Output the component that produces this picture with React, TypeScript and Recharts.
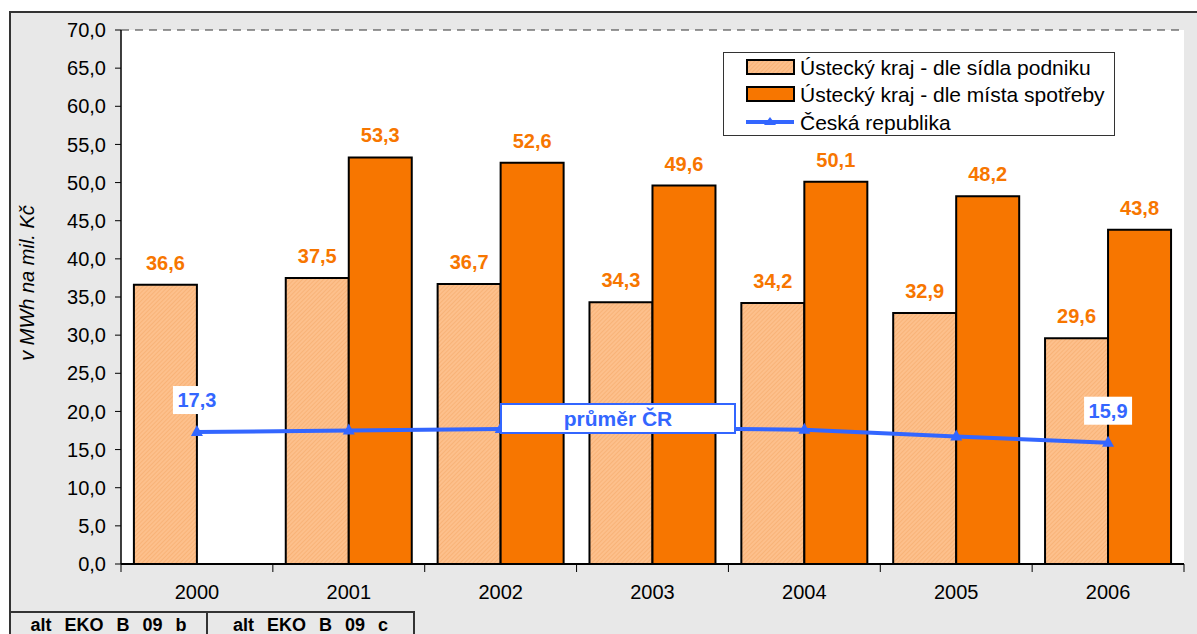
import React from 'react';
import {
  ComposedChart, Bar, Line, XAxis, YAxis, CartesianGrid, LabelList,
} from 'recharts';

const years = ['2000', '2001', '2002', '2003', '2004', '2005', '2006'];
const sidlaPodniku = [36.6, 37.5, 36.7, 34.3, 34.2, 32.9, 29.6];
const mistaSpotreby = [null, 53.3, 52.6, 49.6, 50.1, 48.2, 43.8];
const ceskaRepublika = [17.3, 17.5, 17.7, 17.8, 17.6, 16.7, 15.9];
const yTicks = [0, 5, 10, 15, 20, 25, 30, 35, 40, 45, 50, 55, 60, 65, 70];

const SERIES_NAMES = [
  'Ústecký kraj - dle sídla podniku',
  'Ústecký kraj - dle místa spotřeby',
  'Česká republika',
];

const data = years.map((y, i) => ({
  year: y,
  sidla: sidlaPodniku[i],
  spotreba: mistaSpotreby[i],
  cr: ceskaRepublika[i],
}));

const W = 1197;
const H = 634;
const M = { top: 30, right: 13, bottom: 40, left: 21 };
const Y_W = 100;
const X_H = 30;
const PLOT_LEFT = M.left + Y_W;
const PLOT_W = W - PLOT_LEFT - M.right;
const BAND = PLOT_W / years.length;

const fmt = (v: any) => (v == null ? '' : Number(v).toFixed(1).replace('.', ','));
const FONT = '"Liberation Sans", Arial, sans-serif';
const LIGHT = 'url(#hatch)';
const DARK = '#F77600';
const BLUE = '#3366FF';

const XTick = (props: any) => {
  const { x, y, payload, index } = props;
  const axisY = y - 8;
  return (
    <g>
      <line x1={x - BAND / 2} x2={x - BAND / 2} y1={axisY} y2={axisY + 8} stroke="#000" strokeWidth={1} />
      {index === years.length - 1 && (
        <line x1={x + BAND / 2} x2={x + BAND / 2} y1={axisY} y2={axisY + 8} stroke="#000" strokeWidth={1} />
      )}
      <text x={x} y={axisY + 35} textAnchor="middle" fontSize={20} fill="#000" fontFamily={FONT}>
        {payload.value}
      </text>
    </g>
  );
};

const Tri = (props: any) => {
  const { cx, cy } = props;
  if (cx == null || cy == null) return null;
  return <polygon points={`${cx - 6},${cy + 4} ${cx + 6},${cy + 4} ${cx},${cy - 7}`} fill={BLUE} />;
};

const LineLabel = (props: any) => {
  const { x, y, value, index } = props;
  if (index !== 0 && index !== years.length - 1) return null;
  const t = fmt(value);
  const cy = y - 32;
  return (
    <g>
      <rect x={x - 24} y={cy - 14} width={48} height={28} fill="#fff" />
      <text x={x} y={cy + 7} textAnchor="middle" fontSize={20} fontWeight="bold" fill={BLUE} fontFamily={FONT}>
        {t}
      </text>
    </g>
  );
};

const YLabel = (props: any) => {
  const { viewBox } = props;
  const cx = 27;
  const cy = viewBox.y + viewBox.height / 2 - 14;
  return (
    <text
      x={cx}
      y={cy}
      transform={`rotate(-90 ${cx} ${cy})`}
      textAnchor="middle"
      dominantBaseline="central"
      fontSize={20}
      fontStyle="italic"
      fill="#000"
      fontFamily={FONT}
    >
      v MWh na mil. Kč
    </text>
  );
};

const LegendBox = () => (
  <div
    style={{
      position: 'absolute', left: 723, top: 52, width: 392, height: 84, background: '#fff',
      border: '1px solid #333', boxSizing: 'border-box',
    }}
  >
    <svg width={390} height={82} style={{ display: 'block' }}>
      <defs>
        <pattern id="hatchL" width="3" height="3" patternUnits="userSpaceOnUse" patternTransform="rotate(45)">
          <rect width="3" height="3" fill="#FDC08C" />
          <line x1="0" y1="0" x2="0" y2="3" stroke="#F3A765" strokeWidth="1" />
        </pattern>
      </defs>
      <rect x={23} y={7} width={47} height={14} fill="url(#hatchL)" stroke="#000" strokeWidth={2} />
      <text x={76} y={22} fontSize={21} fontFamily={FONT}>{SERIES_NAMES[0]}</text>
      <rect x={23} y={34} width={47} height={14} fill={DARK} stroke="#000" strokeWidth={2} />
      <text x={76} y={49} fontSize={21} fontFamily={FONT}>{SERIES_NAMES[1]}</text>
      <line x1={22} x2={70} y1={69} y2={69} stroke={BLUE} strokeWidth={4} />
      <polygon points="40,72 52,72 46,64" fill={BLUE} />
      <text x={76} y={77} fontSize={21} fontFamily={FONT}>{SERIES_NAMES[2]}</text>
    </svg>
  </div>
);

const tagStyle: React.CSSProperties = {
  position: 'absolute', top: 611, height: 30, boxSizing: 'border-box',
  border: '2px solid #333', fontWeight: 'bold', fontSize: 18, wordSpacing: 8,
  display: 'flex', justifyContent: 'center', paddingTop: 2, fontFamily: FONT,
};

export default function App() {
  return (
    <div style={{ position: 'absolute', left: 0, top: 0, width: W, height: H, overflow: 'hidden', background: '#fff', fontFamily: FONT }}>
      <div
        style={{
          position: 'absolute', left: 9, top: 11, width: W, height: H,
          background: '#E8E8E8', borderLeft: '2px solid #333', borderTop: '2px solid #333',
        }}
      />
      <div style={{ position: 'absolute', left: 0, top: 0 }}>
        <ComposedChart
          width={W}
          height={H}
          data={data}
          margin={M}
          barCategoryGap="8.5%"
          barGap={0}
        >
          <defs>
            <pattern id="hatch" width="3" height="3" patternUnits="userSpaceOnUse" patternTransform="rotate(45)">
              <rect width="3" height="3" fill="#FDC08C" />
              <line x1="0" y1="0" x2="0" y2="3" stroke="#F3A765" strokeWidth="1" />
            </pattern>
          </defs>
          <CartesianGrid
            vertical={false}
            horizontal
            fill="#fff"
            stroke="#333"
            strokeDasharray="8 6"
            strokeWidth={1}
          />
          <XAxis
            dataKey="year"
            height={X_H}
            axisLine={{ stroke: '#000', strokeWidth: 2 }}
            tickLine={false}
            tickSize={0}
            tickMargin={8}
            interval={0}
            tick={<XTick />}
          />
          <YAxis
            yAxisId="l"
            width={Y_W}
            domain={[0, 70]}
            ticks={yTicks}
            interval={0}
            tickFormatter={fmt}
            axisLine={{ stroke: '#000', strokeWidth: 1.5 }}
            tickLine={{ stroke: '#000' }}
            tickSize={6}
            tickMargin={9}
            tick={{ fontSize: 20, fill: '#000', fontFamily: FONT }}
            label={<YLabel />}
          />
          <YAxis
            yAxisId="r"
            orientation="right"
            width={0}
            domain={[0, 70]}
            tick={false}
            tickLine={false}
            axisLine={{ stroke: '#000', strokeWidth: 1.5 }}
          />
          <Bar yAxisId="l" dataKey="sidla" name={SERIES_NAMES[0]} fill={LIGHT} stroke="#000" strokeWidth={2} isAnimationActive={false}>
            <LabelList dataKey="sidla" position="top" offset={15} formatter={fmt}
              style={{ fontSize: 20, fontWeight: 'bold', fill: DARK, fontFamily: FONT }} />
          </Bar>
          <Bar yAxisId="l" dataKey="spotreba" name={SERIES_NAMES[1]} fill={DARK} stroke="#000" strokeWidth={2} isAnimationActive={false}>
            <LabelList dataKey="spotreba" position="top" offset={15} formatter={fmt}
              style={{ fontSize: 20, fontWeight: 'bold', fill: DARK, fontFamily: FONT }} />
          </Bar>
          <Line
            yAxisId="l"
            dataKey="cr"
            name={SERIES_NAMES[2]}
            type="linear"
            stroke={BLUE}
            strokeWidth={4}
            dot={<Tri />}
            activeDot={false}
            isAnimationActive={false}
          >
            <LabelList dataKey="cr" content={<LineLabel />} />
          </Line>
        </ComposedChart>
      </div>
      <LegendBox />
      <div
        style={{
          position: 'absolute', left: 500, top: 403, width: 236, height: 31, boxSizing: 'border-box',
          background: '#fff', border: `2px solid ${BLUE}`, color: BLUE, fontWeight: 'bold', fontSize: 21,
          display: 'flex', alignItems: 'center', justifyContent: 'center', fontFamily: FONT,
        }}
      >
        průměr ČR
      </div>
      <div style={{ ...tagStyle, left: 9, width: 199 }}>alt EKO B 09 b</div>
      <div style={{ ...tagStyle, left: 206, width: 209 }}>alt EKO B 09 c</div>
    </div>
  );
}
